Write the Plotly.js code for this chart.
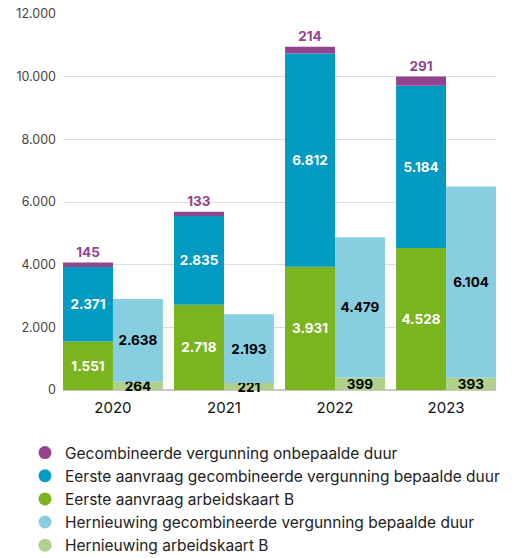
<!DOCTYPE html>
<html>
<head>
<meta charset="utf-8">
<script src="https://cdn.plot.ly/plotly-3.0.1.min.js"></script>
<style>html,body{margin:0;padding:0;background:#fff;}#chart{width:514px;height:558px;}</style>
</head>
<body>
<div id="chart"></div>
<script>
const years = ['2020', '2021', '2022', '2023'];
const eersteArbeidskaartB = [1551, 2718, 3931, 4528];
const eersteGecombineerdBepaald = [2371, 2835, 6812, 5184];
const gecombineerdOnbepaald = [145, 133, 214, 291];
const hernieuwingArbeidskaartB = [264, 221, 399, 393];
const hernieuwingGecombineerdBepaald = [2638, 2193, 4479, 6104];

const names = {
  onb: 'Gecombineerde vergunning onbepaalde duur',
  eGec: 'Eerste aanvraag gecombineerde vergunning bepaalde duur',
  eArb: 'Eerste aanvraag arbeidskaart B',
  hGec: 'Hernieuwing gecombineerde vergunning bepaalde duur',
  hArb: 'Hernieuwing arbeidskaart B'
};
const colors = {
  onb: '#94438E',
  eGec: '#009AC2',
  eArb: '#7AB41E',
  hGec: '#87CEE1',
  hArb: '#AFD18B'
};

const FONT = 'Inter, "Noto Sans", sans-serif';
const baseBlue = eersteArbeidskaartB.slice();
const basePurple = eersteArbeidskaartB.map((v, i) => v + eersteGecombineerdBepaald[i]);
const baseHGec = hernieuwingArbeidskaartB.slice();

function barTrace(y, base, key, group, txtColor, pos) {
  return {
    type: 'bar', x: years, y: y, base: base, name: names[key],
    offsetgroup: group, showlegend: false,
    marker: {color: colors[key], line: {width: 0}},
    texttemplate: '%{y:,.0f}', textposition: pos || 'inside',
    insidetextanchor: 'middle', constraintext: 'none',
    textangle: 0,
    textfont: {family: FONT, size: 13.5, color: txtColor, weight: 700},
    outsidetextfont: {family: FONT, size: 13.5, color: txtColor, weight: 700},
    cliponaxis: false, hoverinfo: 'skip'
  };
}

const traces = [
  barTrace(eersteArbeidskaartB, years.map(() => 0), 'eArb', 'A', '#ffffff'),
  barTrace(eersteGecombineerdBepaald, baseBlue, 'eGec', 'A', '#ffffff'),
  barTrace(gecombineerdOnbepaald, basePurple, 'onb', 'A', colors.onb, 'outside'),
  barTrace(hernieuwingArbeidskaartB, years.map(() => 0), 'hArb', 'B', '#000000'),
  barTrace(hernieuwingGecombineerdBepaald, baseHGec, 'hGec', 'B', '#000000')
];

['onb', 'eGec', 'eArb', 'hGec', 'hArb'].forEach(k => {
  traces.push({
    type: 'scatter', mode: 'markers', x: [null], y: [null], name: names[k],
    marker: {color: colors[k], size: 13, symbol: 'circle'},
    showlegend: true, hoverinfo: 'skip'
  });
});

const layout = {
  width: 514, height: 558,
  margin: {l: 63, r: 18, t: 14, b: 168, autoexpand: false},
  paper_bgcolor: '#ffffff', plot_bgcolor: '#ffffff',
  separators: ',.',
  barmode: 'group', bargap: 0.1, bargroupgap: 0,
  font: {family: FONT, color: '#333'},
  showlegend: true,
  xaxis: {
    type: 'category', range: [-0.45, 3.45], showgrid: false,
    ticks: '', showline: false, zeroline: false, tickangle: 0,
    ticklabelstandoff: 7,
    tickfont: {family: FONT, size: 15, color: '#111'},
    fixedrange: true
  },
  yaxis: {
    range: [0, 12000], dtick: 2000, tickformat: ',d',
    showgrid: true, gridcolor: '#dcdcdc', gridwidth: 1,
    zeroline: true, zerolinecolor: '#c8c8c8', zerolinewidth: 2,
    showline: false, ticks: '', ticklabelstandoff: 6,
    tickfont: {family: FONT, size: 12.5, color: '#444'},
    fixedrange: true
  },
  legend: {
    xref: 'container', yref: 'container',
    x: 25 / 514, y: 1 - 436 / 558, xanchor: 'left', yanchor: 'top',
    orientation: 'v', traceorder: 'normal',
    font: {family: FONT, size: 15.5, color: '#222'},
    itemclick: false, itemdoubleclick: false,
    bgcolor: 'rgba(0,0,0,0)', borderwidth: 0
  }
};

Plotly.newPlot('chart', traces, layout, {displayModeBar: false, staticPlot: true});
</script>
</body>
</html>
